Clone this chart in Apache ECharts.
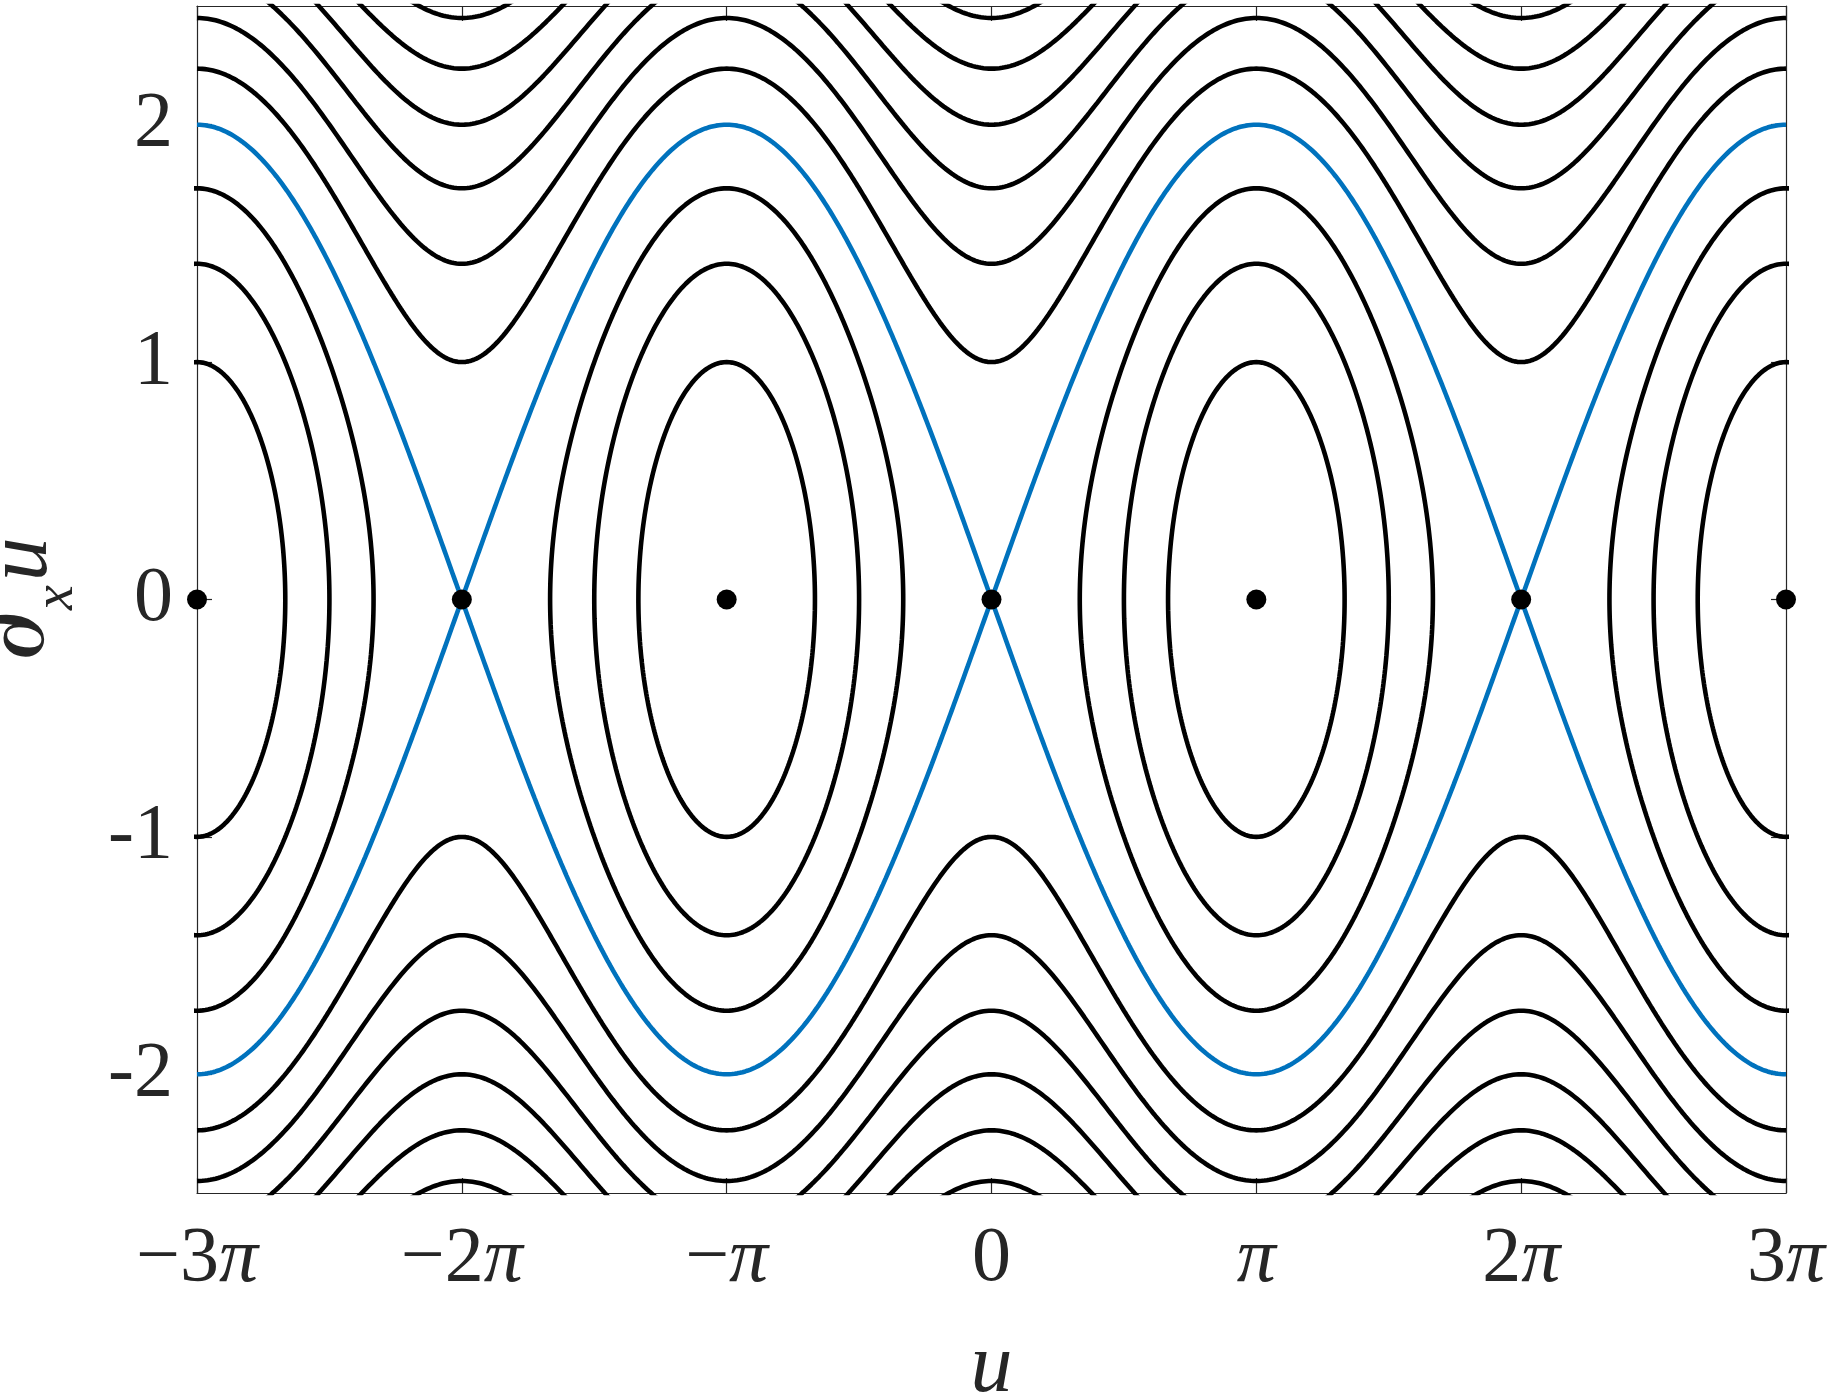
<!DOCTYPE html>
<html>
<head>
<meta charset="utf-8">
<script src="https://cdn.jsdelivr.net/npm/echarts@6/dist/echarts.min.js"></script>
<style>html,body{margin:0;background:#fff}#main{width:1834px;height:1400px}</style>
</head>
<body>
<div id="main"></div>
<script>
var closedLevels = [-0.5, 0, 0.5];
var separatrixLevel = 1;
var openLevels = [1.5, 2, 2.5, 3, 3.5, 4];
var orbitCenters = [-3, -1, 1, 3];            // centers, in units of pi
var fixedPoints = [-3, -2, -1, 0, 1, 2, 3];   // equilibria on v = 0, in units of pi
var xTicks = [-3, -2, -1, 0, 1, 2, 3];
var yTicks = [-2, -1, 0, 1, 2];

var FONT = "'Liberation Serif', 'DejaVu Serif', serif";
var INK = '#262626';

// closed orbit around center c (units of pi)
function closedOrbit(E, c) {
	var pts = [];
	var d = Math.acos(-E);
	var N = 400;
	for (var i = 0; i <= N; i++) {
		var th = 2 * Math.PI * i / N;
		var u = c * Math.PI + d * Math.cos(th);
		var w = Math.max(0, 2 * (E - Math.cos(u)));
		var s = Math.sin(th);
		var v = (Math.abs(s) < 1e-12 ? 0 : (s > 0 ? 1 : -1)) * Math.sqrt(w);
		pts.push([u / Math.PI, v]);
	}
	return pts;
}

// rotating orbit (upper or lower branch) over the whole range
function openBranch(E, sgn) {
	var pts = [];
	var N = 1200;
	for (var i = 0; i <= N; i++) {
		var u = -3 * Math.PI + 6 * Math.PI * i / N;
		var v = sgn * Math.sqrt(Math.max(0, 2 * (E - Math.cos(u))));
		pts.push([u / Math.PI, v]);
	}
	return pts;
}

function lineSeries(data, color) {
	return {
		type : 'line',
		data : data,
		showSymbol : false,
		silent : true,
		clip : true,
		lineStyle : { color : color, width : 4.6 },
		z : 2
	};
}

var series = [];
closedLevels.forEach(function(E) {
	orbitCenters.forEach(function(c) {
		series.push(lineSeries(closedOrbit(E, c), '#000'));
	});
});
openLevels.forEach(function(E) {
	series.push(lineSeries(openBranch(E, 1), '#000'));
	series.push(lineSeries(openBranch(E, -1), '#000'));
});
series.push(lineSeries(openBranch(separatrixLevel, 1), '#0072BD'));
series.push(lineSeries(openBranch(separatrixLevel, -1), '#0072BD'));
series.push({
	type : 'scatter',
	data : fixedPoints.map(function(k) { return [k, 0]; }),
	symbolSize : 20,
	itemStyle : { color : '#000', opacity : 1 },
	silent : true,
	z : 5
});

function piLabel(k) {
	if (k === 0) return '0';
	var sign = k < 0 ? '\u2212' : '';
	var n = Math.abs(k) === 1 ? '' : String(Math.abs(k));
	return sign + n + '{p|\u03c0}';
}

var axisLineStyle = { show : true, onZero : false, lineStyle : { color : INK, width : 1.2 } };
var tickStyle = { show : true, inside : true, length : 15, lineStyle : { color : INK, width : 1.2 } };

var myChart = echarts.init(document.getElementById('main'));
var option = {
	animation : false,
	backgroundColor : '#fff',
	grid : { left : 197, right : 48, top : 6, bottom : 207, outerBoundsMode : 'none', containLabel : false },
	xAxis : [ {
		type : 'value',
		min : -3,
		max : 3,
		interval : 1,
		position : 'bottom',
		axisLine : axisLineStyle,
		axisTick : tickStyle,
		splitLine : { show : false },
		axisLabel : {
			fontFamily : FONT, fontSize : 78, color : INK, margin : 28,
			formatter : piLabel,
			rich : { p : { fontFamily : FONT, fontSize : 78, color : INK, fontStyle : 'italic' } }
		},
		name : 'u',
		nameLocation : 'middle',
		nameGap : 134,
		nameTextStyle : { fontFamily : FONT, fontSize : 84, color : INK, fontStyle : 'italic' }
	}, {
		type : 'value',
		min : -3,
		max : 3,
		interval : 1,
		position : 'top',
		axisLine : axisLineStyle,
		axisTick : tickStyle,
		axisLabel : { show : false },
		splitLine : { show : false }
	} ],
	yAxis : [ {
		type : 'value',
		min : -2.5,
		max : 2.5,
		interval : 0.5,
		position : 'left',
		axisLine : axisLineStyle,
		axisTick : { show : true, inside : true, length : 15, customValues : yTicks, lineStyle : { color : INK, width : 1.2 } },
		splitLine : { show : false },
		axisLabel : {
			fontFamily : FONT, fontSize : 78, color : INK, margin : 24,
			customValues : yTicks,
			formatter : function(v) { return String(v); }
		},
		name : '{d|\u2202}{s|x}{u|u}',
		nameLocation : 'middle',
		nameRotate : 90,
		nameGap : 130,
		nameTextStyle : {
			rich : {
				d : { fontFamily : "'DejaVu Serif', serif", fontSize : 100, color : INK, verticalAlign : 'bottom' },
				s : { fontFamily : FONT, fontSize : 56, color : INK, fontStyle : 'italic', verticalAlign : 'bottom', padding : [0, 4, -18, 0] },
				u : { fontFamily : FONT, fontSize : 88, color : INK, fontStyle : 'italic', verticalAlign : 'bottom' }
			}
		}
	}, {
		type : 'value',
		min : -2.5,
		max : 2.5,
		interval : 0.5,
		position : 'right',
		axisLine : axisLineStyle,
		axisTick : { show : true, inside : true, length : 15, customValues : yTicks, lineStyle : { color : INK, width : 1.2 } },
		axisLabel : { show : false },
		splitLine : { show : false }
	} ],
	series : series
};
myChart.setOption(option);
</script>
</body>
</html>
